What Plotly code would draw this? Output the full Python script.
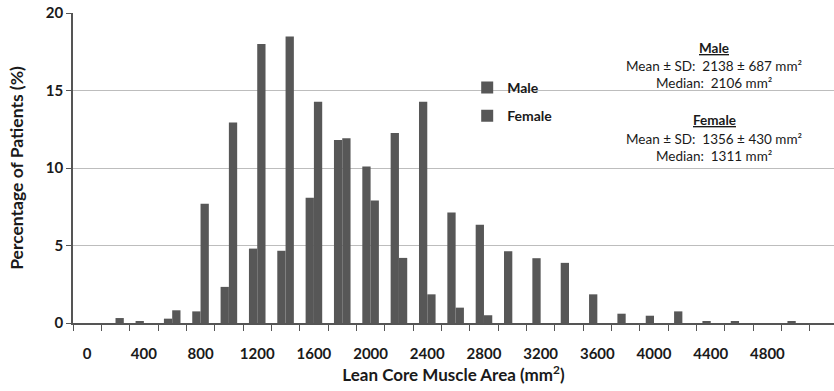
import plotly.graph_objects as go

# Bin start values (mm^2)
bins = [0, 200, 400, 600, 800, 1000, 1200, 1400, 1600, 1800, 2000, 2200, 2400,
        2600, 2800, 3000, 3200, 3400, 3600, 3800, 4000, 4200, 4400, 4600, 4800, 5000]
male = [0, 0, 0.13, 0.28, 0.75, 2.33, 4.8, 4.66, 8.08, 11.8, 10.1, 12.26, 14.27,
        7.13, 6.34, 4.63, 4.18, 3.88, 1.85, 0.6, 0.47, 0.75, 0.13, 0.13, 0, 0.13]
female = [0, 0.32, 0, 0.82, 7.7, 12.93, 18.0, 18.49, 14.27, 11.92, 7.91, 4.2, 1.85,
          0.99, 0.5, 0, 0, 0, 0, 0, 0, 0, 0, 0, 0, 0]
xtick_vals = [0, 400, 800, 1200, 1600, 2000, 2400, 2800, 3200, 3600, 4000, 4400, 4800]
xtick_text = [str(v) for v in xtick_vals]
ytick_vals = [0, 5, 10, 15, 20]

stats_lines = [
    ("<b><u>Male</u></b>", 48),
    ("Mean ± SD:  2138 ± 687 mm²", 66),
    ("Median:  2106 mm²", 83),
    ("<b><u>Female</u></b>", 120),
    ("Mean ± SD:  1356 ± 430 mm²", 139),
    ("Median:  1311 mm²", 156),
]

BAR = "#575757"
FONT = "Lato"
H = 391
T, B = 13, 68
ph = H - T - B

fig = go.Figure()
fig.add_trace(go.Bar(x=bins, y=male, name="Male", marker=dict(color=BAR, line=dict(width=0)),
                     legendgroup="m"))
fig.add_trace(go.Bar(x=bins, y=female, name="Female", marker=dict(color=BAR, line=dict(width=0)),
                     legendgroup="f"))

for txt, ypix in stats_lines:
    fig.add_annotation(text=txt, xref="paper", yref="paper",
                       x=(714 - 73) / 761, y=(H - B - ypix) / ph,
                       xanchor="center", yanchor="middle", showarrow=False,
                       font=dict(family=FONT, size=13.5, color="#1a1a1a"))

fig.update_layout(
    width=834, height=391,
    margin=dict(l=73, r=0, t=T, b=B),
    paper_bgcolor="white", plot_bgcolor="white",
    barmode="group", bargap=0.415, bargroupgap=0,
    font=dict(family=FONT, color="#1a1a1a"),
    legend=dict(x=0.518, y=0.81, xanchor="left", yanchor="top",
                font=dict(family=FONT, size=14, color="#1a1a1a", weight="bold"),
                bgcolor="rgba(0,0,0,0)", tracegroupgap=7, itemwidth=30,
                traceorder="grouped"),
    xaxis=dict(
        range=[-100, 5270], showgrid=False, zeroline=False,
        showline=True, linecolor="#555555", linewidth=1.5,
        tickmode="array", tickvals=xtick_vals, ticktext=xtick_text,
        ticks="", ticklabelstandoff=16,
        tickfont=dict(family=FONT, size=15, color="#1a1a1a", weight="bold"),
        minor=dict(ticks="outside", tick0=-100, dtick=200, ticklen=6,
                   tickcolor="#555555", tickwidth=1.2, showgrid=False),
        title=dict(text="Lean Core Muscle Area (mm<sup>2</sup>)", standoff=6,
                   font=dict(family=FONT, size=17, color="#1a1a1a", weight="bold")),
    ),
    yaxis=dict(
        range=[0, 20], tickvals=ytick_vals, showgrid=True, gridcolor="#bdbdbd",
        gridwidth=1.3, zeroline=False, showline=True, linecolor="#555555",
        linewidth=1.5, ticks="outside", ticklen=5, tickcolor="#555555", tickwidth=1.2,
        tickfont=dict(family=FONT, size=15, color="#1a1a1a", weight="bold"),
        title=dict(text="Percentage of Patients (%)", standoff=18,
                   font=dict(family=FONT, size=17.5, color="#1a1a1a", weight="bold")),
    ),
)

fig.write_html("out.html")
